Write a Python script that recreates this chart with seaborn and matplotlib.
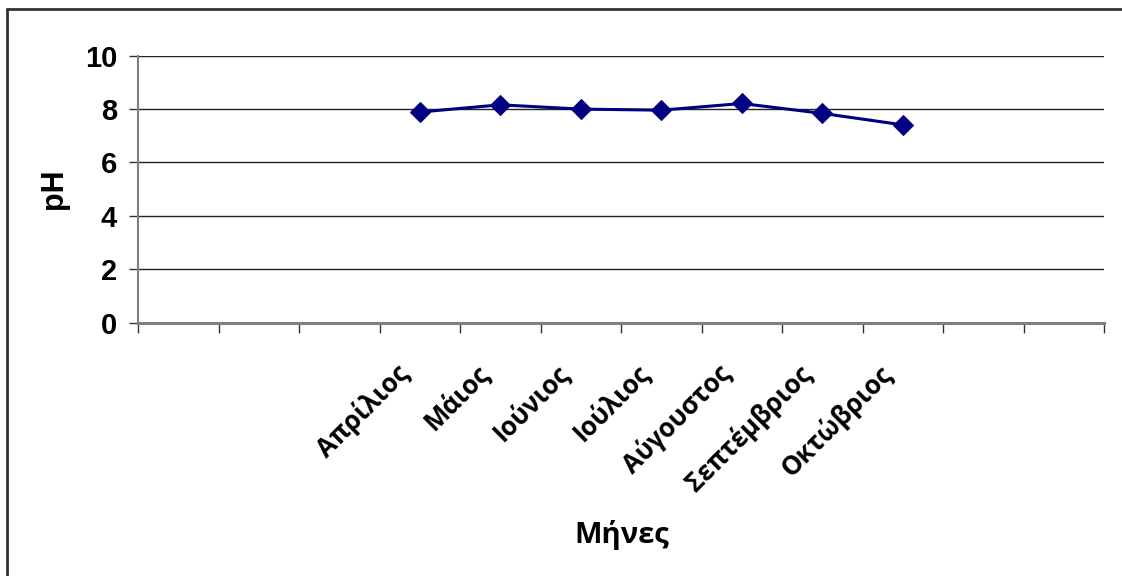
import numpy as np
import pandas as pd
import matplotlib
matplotlib.use("Agg")
import matplotlib.pyplot as plt
from matplotlib.lines import Line2D
from matplotlib.transforms import ScaledTranslation
import seaborn as sns

# Monthly pH readings
months = ["Απρίλιος", "Μάιος", "Ιούνιος", "Ιούλιος", "Αύγουστος", "Σεπτέμβριος", "Οκτώβριος"]
ph_values = [7.89, 8.16, 8.00, 7.96, 8.21, 7.84, 7.41]

# Category axis layout: 12 slots, the measured months occupy slots 3..9
n_slots = 12
first_slot = 3
y_ticks = [0, 2, 4, 6, 8, 10]

sns.set_theme(style="white")
plt.rcParams["font.family"] = ["Liberation Sans", "DejaVu Sans"]
plt.rcParams["text.color"] = "black"
plt.rcParams["xtick.color"] = "black"
plt.rcParams["ytick.color"] = "black"

fig = plt.figure(figsize=(11.22, 5.76), dpi=100, facecolor="white")
W, H = 1122, 576
ax = fig.add_axes([138 / W, 1 - 322.7 / H, (1104 - 138) / W, (322.7 - 55.7) / H])

slots = first_slot + np.arange(len(months)) + 0.5
df = pd.DataFrame({"slot": slots, "pH": ph_values})
sns.lineplot(data=df, x="slot", y="pH", ax=ax, color="#000080", linewidth=2.2,
             marker="D", markersize=10, markeredgecolor="#000080",
             markerfacecolor="#000080")

ax.set_xlim(0, n_slots)
ax.set_ylim(0, 10)

# horizontal gridlines
ax.set_yticks(y_ticks)
ax.yaxis.grid(True, color="#222222", linewidth=1.0)
ax.xaxis.grid(False)

# category boundaries as tick marks
ax.set_xticks(np.arange(n_slots + 1))
ax.set_xticklabels([])
ax.tick_params(axis="x", which="major", direction="out", length=7.2, width=1.0,
               color="#333333", bottom=True)

# slanted month names below each slot
label_tf = ax.get_xaxis_transform() + ScaledTranslation(-25 / 100, -37 / 100, fig.dpi_scale_trans)
for s, name in zip(slots, months):
    ax.text(s, 0, name, transform=label_tf, rotation=45, ha="right", va="top",
            rotation_mode="anchor", fontsize=18.5, fontweight="bold",
            family=["Open Sans", "DejaVu Sans"], color="black")

ax.tick_params(axis="y", which="major", direction="out", length=6.5, width=1.0,
               color="#333333", left=True, pad=8.5)
for lab in ax.get_yticklabels():
    lab.set_fontsize(21)
    lab.set_fontweight("bold")
    lab.set_color("black")

for side in ["top", "right"]:
    ax.spines[side].set_visible(False)
ax.spines["left"].set_color("#808080")
ax.spines["left"].set_linewidth(1.5)
ax.spines["bottom"].set_color("#808080")
ax.spines["bottom"].set_linewidth(2.2)

ax.set_xlabel("")
ax.set_ylabel("")
fig.text(622 / W, 1 - 535 / H, "Μήνες", ha="center", va="center", fontsize=21,
         fontweight="bold", family=["Open Sans", "DejaVu Sans"], color="black")
fig.text(54 / W, 1 - 189 / H, "pH", ha="center", va="center", rotation=90,
         fontsize=22, fontweight="bold", color="black")

# chart area frame
fig.add_artist(Line2D([7 / W, 1], [1 - 9 / H, 1 - 9 / H], color="#333333", linewidth=2))
fig.add_artist(Line2D([7 / W, 7 / W], [0, 1 - 9 / H], color="#333333", linewidth=2))

fig.savefig("out.png", dpi=100, facecolor="white")
